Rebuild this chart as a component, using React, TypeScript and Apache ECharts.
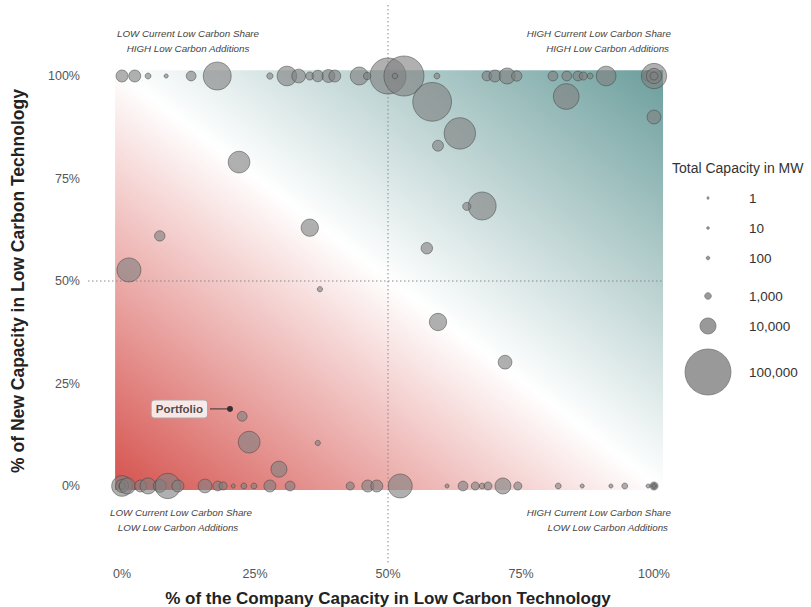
import React, { useEffect, useRef } from "react";
import * as echarts from "echarts";

// ---- data ----
const axisTicks = [0, 25, 50, 75, 100];

// companies at 100% new low-carbon capacity: [x %, MW]
const topRow: number[][] = [
  [0, 5000], [2.4, 5000], [4.9, 700], [8.3, 200], [13, 3000], [17.9, 35000],
  [27.8, 900], [31, 16000], [33.2, 7000], [35.3, 1800], [36.8, 4500], [38.8, 6000],
  [40, 5000], [44.6, 13000], [46.1, 1500], [50, 60000], [53, 75000], [51.3, 600],
  [59.2, 700], [68.6, 3000], [70.1, 5000], [72.4, 10000], [74.2, 3500],
  [81, 3000], [83.6, 3000], [85.7, 3000], [86.7, 1800], [88, 700], [91, 16000],
  [98.9, 3500], [100, 28000], [100, 9000], [100, 1800],
];

// companies with mixed additions: [x %, y %, MW]
const midPoints: number[][] = [
  [22, 79, 20000], [7.1, 61, 3500], [1.3, 52.7, 25000], [35.3, 63, 12000],
  [37.2, 48, 500], [59.4, 83, 4000], [58.3, 93.7, 70000], [63.5, 86, 45000],
  [67.7, 68.3, 35000], [64.8, 68.2, 1800], [57.3, 58, 4500], [59.4, 40, 12000],
  [72, 30.2, 7000], [83.5, 95, 29000], [100, 90, 7000], [22.6, 17, 3000],
  [23.9, 10.7, 20000], [29.5, 4.1, 10000], [36.8, 10.5, 500],
];

// companies with no new low-carbon capacity: [x %, MW]
const bottomRow: number[][] = [
  [0, 18000], [0, 6000], [0, 1000], [1, 10000], [3.5, 5000], [4.9, 10000],
  [7.1, 6000], [8.6, 28000], [10.5, 5000], [15.6, 7000], [18, 3000], [19, 1800],
  [20.9, 200], [22.9, 700], [24.8, 700], [27.8, 5000], [31.6, 3000], [42.9, 1800],
  [46.2, 5000], [47.9, 5000], [52.3, 25000], [61.1, 200], [64.1, 3000],
  [66.4, 1800], [67.7, 700], [68.8, 1800], [71.6, 10000], [74.4, 1800], [82, 700],
  [86.5, 200], [91.9, 200], [94.5, 700], [98.9, 200], [100, 1800], [100, 600], [100, 100],
];

const portfolioPoint = [20.3, 18.8];

const legendValues = [1, 10, 100, 1000, 10000, 100000];
const legendLabels = ["1", "10", "100", "1,000", "10,000", "100,000"];

const FONT = "'Liberation Sans', Arial, Helvetica, sans-serif";

const sizeOf = (mw: number) => 2 * (1.1 + 0.069 * Math.sqrt(mw));

export default function App() {
  const ref = useRef<HTMLDivElement>(null);

  useEffect(() => {
    document.body.style.margin = "0";
    const chart = echarts.init(ref.current!, null, { renderer: "svg" });

    const bubbles = [
      ...topRow.map((d) => [d[0], 100, d[1]]),
      ...midPoints.map((d) => [d[0], d[1], d[2]]),
      ...bottomRow.map((d) => [d[0], 0, d[1]]),
    ];

    const axisCommon = {
      type: "value" as const,
      min: 0,
      max: 100,
      interval: 25,
      axisLine: { show: false },
      axisTick: { show: false },
      splitLine: { show: false },
    };

    chart.setOption({
      animation: false,
      grid: { left: 122, right: 157, top: 76, bottom: 121, outerBoundsMode: "none", containLabel: false },
      xAxis: {
        ...axisCommon,
        axisLabel: {
          formatter: "{value}%",
          margin: 81,
          color: "#555",
          fontSize: 12.5,
          fontFamily: FONT,
        },
        name: "% of the Company Capacity in Low Carbon Technology",
        nameLocation: "middle",
        nameGap: 104,
        nameTextStyle: { fontSize: 17, fontWeight: "bold", color: "#222", fontFamily: FONT },
      },
      yAxis: {
        ...axisCommon,
        axisLabel: {
          formatter: "{value}%",
          margin: 42,
          color: "#555",
          fontSize: 12.5,
          fontFamily: FONT,
        },
        name: "% of New Capacity in Low Carbon Technology",
        nameLocation: "middle",
        nameGap: 95,
        nameTextStyle: { fontSize: 17.5, fontWeight: "bold", color: "#222", fontFamily: FONT },
      },
      series: [
        {
          type: "scatter",
          clip: false,
          z: 5,
          data: bubbles,
          symbolSize: (v: number[]) => sizeOf(v[2]),
          itemStyle: {
            color: "rgba(128,128,128,0.78)",
            borderColor: "rgba(60,60,60,0.75)",
            borderWidth: 0.8,
          },
        },
        {
          type: "scatter",
          clip: false,
          z: 6,
          data: [portfolioPoint],
          symbolSize: 6,
          itemStyle: { color: "#111" },
          label: {
            show: true,
            position: "left",
            distance: 20,
            formatter: "Portfolio",
            fontFamily: FONT,
            fontWeight: "bold",
            fontSize: 11.5,
            color: "#222",
            backgroundColor: "#fff",
            borderColor: "#aaa",
            borderWidth: 1,
            borderRadius: 3,
            padding: [3, 4, 2, 4],
          },
        },
      ],
    });

    const p = (x: number, y: number) => chart.convertToPixel({ gridIndex: 0 }, [x, y]) as number[];
    const bl = p(-1.3, -1);
    const tr = p(101.7, 101.4);
    const mid = p(50, 50);
    const port = p(portfolioPoint[0], portfolioPoint[1]);
    const lineStyle = { stroke: "#888", lineWidth: 1, lineDash: [1.5, 2.5] };
    const cornerStyle = { fill: "#444", fontSize: 9.8, fontStyle: "italic", fontFamily: FONT };

    const legendX = 708;
    const legendYs = [198, 228, 258, 296, 326, 372];

    chart.setOption({
      graphic: [
        {
          type: "rect",
          z: -10,
          shape: { x: bl[0], y: tr[1], width: tr[0] - bl[0], height: bl[1] - tr[1] },
          style: {
            fill: new echarts.graphic.LinearGradient(0, 1, 1, 0, [
              { offset: 0, color: "#d5524d" },
              { offset: 0.5, color: "#ffffff" },
              { offset: 1, color: "#6b9e9c" },
            ]),
          },
          silent: true,
        },
        { type: "line", z: -5, shape: { x1: mid[0], y1: 5, x2: mid[0], y2: 565 }, style: lineStyle },
        { type: "line", z: -5, shape: { x1: 88, y1: mid[1], x2: tr[0], y2: mid[1] }, style: lineStyle },
        { type: "line", z: 50, shape: { x1: port[0] - 20, y1: port[1], x2: port[0], y2: port[1] }, style: { stroke: "#333", lineWidth: 1 } },
        { type: "text", x: 188, y: 33, style: { ...cornerStyle, text: "LOW Current Low Carbon Share", align: "center", verticalAlign: "middle" } },
        { type: "text", x: 188, y: 48, style: { ...cornerStyle, text: "HIGH Low Carbon Additions", align: "center", verticalAlign: "middle" } },
        { type: "text", x: 671, y: 33, style: { ...cornerStyle, text: "HIGH Current Low Carbon Share", align: "right", verticalAlign: "middle" } },
        { type: "text", x: 669, y: 48, style: { ...cornerStyle, text: "HIGH Low Carbon Additions", align: "right", verticalAlign: "middle" } },
        { type: "text", x: 181, y: 512, style: { ...cornerStyle, text: "LOW Current Low Carbon Share", align: "center", verticalAlign: "middle" } },
        { type: "text", x: 178, y: 527, style: { ...cornerStyle, text: "LOW Low Carbon Additions", align: "center", verticalAlign: "middle" } },
        { type: "text", x: 671, y: 512, style: { ...cornerStyle, text: "HIGH Current Low Carbon Share", align: "right", verticalAlign: "middle" } },
        { type: "text", x: 668, y: 527, style: { ...cornerStyle, text: "LOW Low Carbon Additions", align: "right", verticalAlign: "middle" } },
        { type: "text", x: 672, y: 168, style: { text: "Total Capacity in MW", fill: "#333", fontSize: 14, fontFamily: FONT, align: "left", verticalAlign: "middle" } },
        ...legendValues.map((v, i) => ({
          type: "circle",
          shape: { cx: legendX, cy: legendYs[i], r: sizeOf(v) / 2 },
          style: { fill: "#999", stroke: "#777", lineWidth: 0.8 },
        })),
        ...legendLabels.map((t, i) => ({
          type: "text",
          x: 749,
          y: legendYs[i],
          style: { text: t, fill: "#333", fontSize: 13.5, fontFamily: FONT, align: "left", verticalAlign: "middle" },
        })),
      ],
    });

    return () => chart.dispose();
  }, []);

  return <div ref={ref} style={{ width: 811, height: 607 }} />;
}
